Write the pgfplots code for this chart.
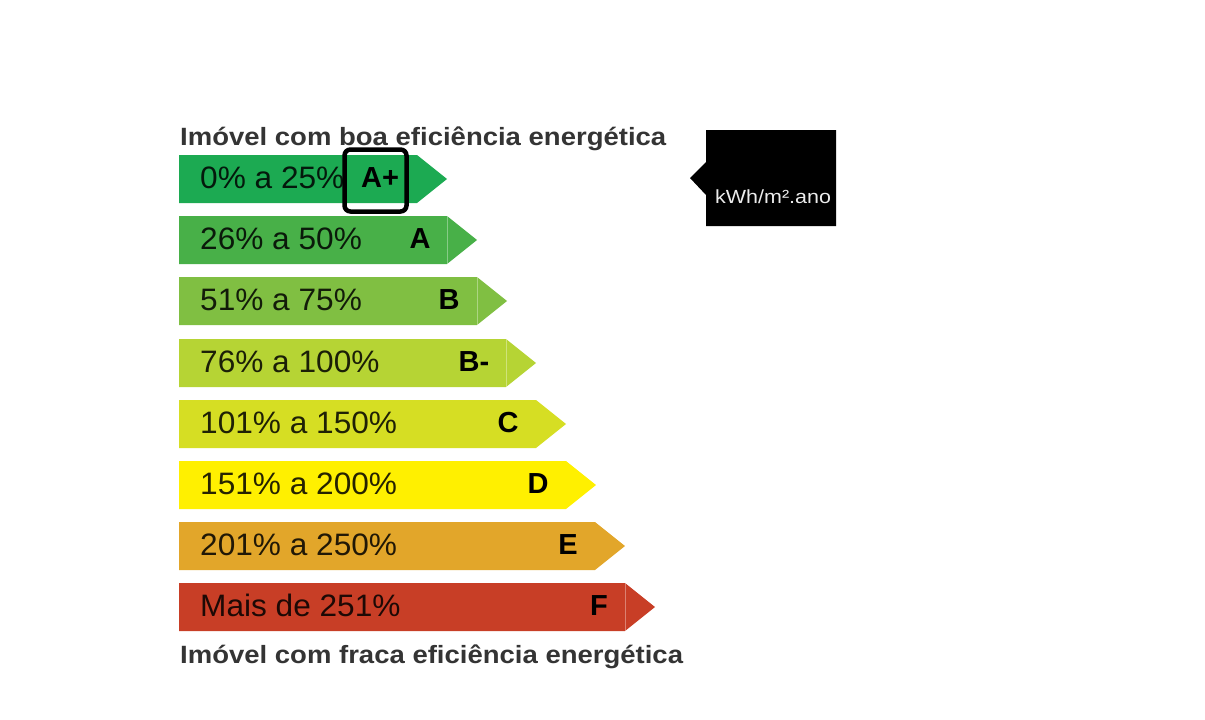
\documentclass[border=0pt]{standalone}
\usepackage{pgfplots}
\pgfplotsset{compat=1.18}
\usepackage{fontspec}
\setmainfont{Liberation Sans}
\definecolor{cAp}{RGB}{28,170,82}
\definecolor{cA}{RGB}{72,176,72}
\definecolor{cB}{RGB}{128,191,66}
\definecolor{cBm}{RGB}{182,212,52}
\definecolor{cC}{RGB}{214,222,35}
\definecolor{cD}{RGB}{255,240,0}
\definecolor{cE}{RGB}{226,166,42}
\definecolor{cF}{RGB}{200,62,38}
\definecolor{ttl}{RGB}{52,52,52}
\tikzset{rng/.style={anchor=base west,inner sep=0pt,text=black,text opacity=0.85,xscale=1.02,font=\fontsize{31}{36}\selectfont},
  cls/.style={anchor=base,inner sep=0pt,text=black,font=\fontsize{29}{34}\selectfont\bfseries},
  sep/.style={white,opacity=0.35,line width=1pt}}
\begin{document}
\begin{tikzpicture}
\begin{axis}[width=1205pt,height=720pt,scale only axis,
  xmin=0,xmax=1205,ymin=0,ymax=720,y dir=reverse,hide axis,clip=false]
\path (axis cs:0,0) rectangle (axis cs:1205,720);
% energy class arrows: left edge, rectangle end, tip
\addplot[fill=cAp,draw=none] coordinates {(179,155) (417,155) (447,179) (417,203) (179,203)} -- cycle;
\addplot[fill=cA,draw=none] coordinates {(179,216) (447,216) (477,240) (447,264) (179,264)} -- cycle;
\addplot[fill=cB,draw=none] coordinates {(179,277) (477,277) (507,301) (477,325) (179,325)} -- cycle;
\addplot[fill=cBm,draw=none] coordinates {(179,339) (506,339) (536,363) (506,387) (179,387)} -- cycle;
\addplot[fill=cC,draw=none] coordinates {(179,400) (536,400) (566,424) (536,448) (179,448)} -- cycle;
\addplot[fill=cD,draw=none] coordinates {(179,461) (566,461) (596,485) (566,509) (179,509)} -- cycle;
\addplot[fill=cE,draw=none] coordinates {(179,522) (595,522) (625,546) (595,570) (179,570)} -- cycle;
\addplot[fill=cF,draw=none] coordinates {(179,583) (625,583) (655,607) (625,631) (179,631)} -- cycle;
% faint separators
\draw[sep] (axis cs:447,216) -- (axis cs:447,264);
\draw[sep] (axis cs:477,277) -- (axis cs:477,325);
\draw[sep] (axis cs:506,339) -- (axis cs:506,387);
\draw[sep] (axis cs:625,583) -- (axis cs:625,631);
% range labels
\node[rng] at (axis cs:200,188) {0\% a 25\%};
\node[rng] at (axis cs:200,249) {26\% a 50\%};
\node[rng] at (axis cs:200,310) {51\% a 75\%};
\node[rng] at (axis cs:200,372) {76\% a 100\%};
\node[rng] at (axis cs:200,433) {101\% a 150\%};
\node[rng] at (axis cs:200,494) {151\% a 200\%};
\node[rng] at (axis cs:200,555) {201\% a 250\%};
\node[rng] at (axis cs:200,616) {Mais de 251\%};
% class letters
\node[cls] at (axis cs:380,187) {A+};
\node[cls] at (axis cs:420,248) {A};
\node[cls] at (axis cs:449,309) {B};
\node[cls] at (axis cs:474,371) {B-};
\node[cls] at (axis cs:508,432) {C};
\node[cls] at (axis cs:538,493) {D};
\node[cls] at (axis cs:568,554) {E};
\node[cls] at (axis cs:599,615) {F};
% highlight box around A+
\draw[black,line width=4.5pt,rounded corners=6pt] (axis cs:344.5,149.5) rectangle (axis cs:406.5,211.5);
% titles
\node[anchor=base west,inner sep=0pt,text=ttl,xscale=1.1,font=\fontsize{25}{30}\selectfont\bfseries] at (axis cs:180,145) {Imóvel com boa eficiência energética};
\node[anchor=base west,inner sep=0pt,text=ttl,xscale=1.1,font=\fontsize{25}{30}\selectfont\bfseries] at (axis cs:180,663) {Imóvel com fraca eficiência energética};
% black value box
\fill[black] (axis cs:706,130) -- (axis cs:836,130) -- (axis cs:836,226) -- (axis cs:706,226) -- (axis cs:706,195) -- (axis cs:690,178) -- (axis cs:706,162) -- cycle;
\node[anchor=base west,inner sep=0pt,text=white!92!black,xscale=1.13,font=\fontsize{19}{23}\selectfont] at (axis cs:715,203) {kWh/m².ano};
\end{axis}
\end{tikzpicture}
\end{document}
